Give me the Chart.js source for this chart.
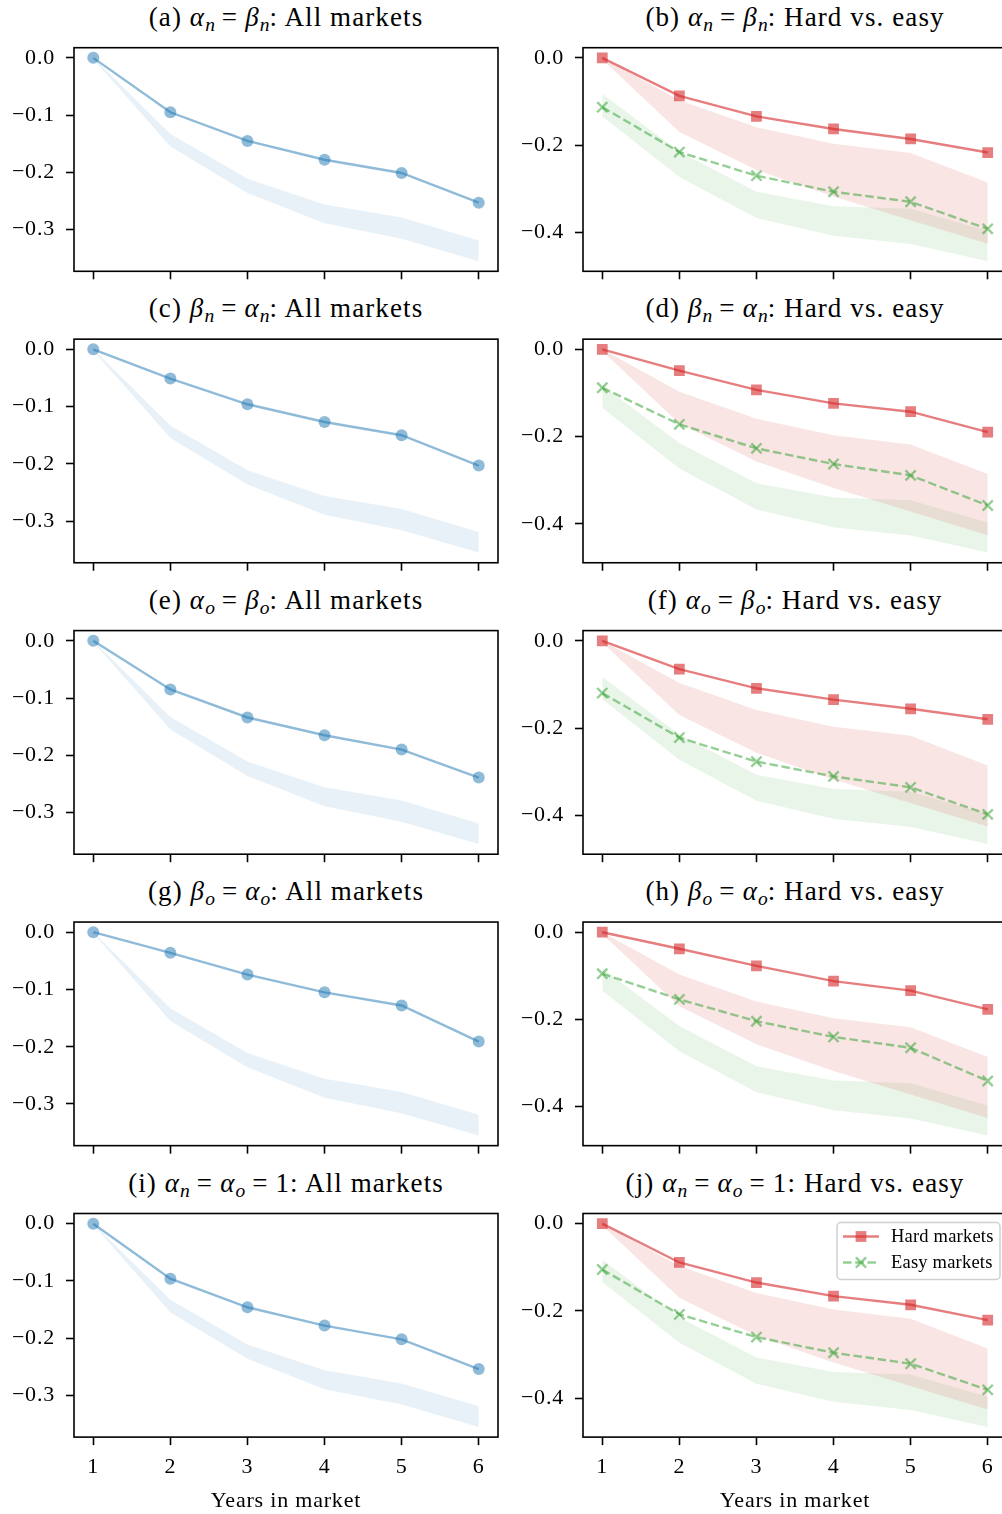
<!DOCTYPE html>
<html>
<head>
<meta charset="utf-8">
<script src="https://cdn.jsdelivr.net/npm/chart.js@4.4.1/dist/chart.umd.min.js"></script>
<style>
  html, body { margin: 0; padding: 0; background: #fff; }
  body { width: 1002px; height: 1514px; overflow: hidden; position: relative; font-family: 'Liberation Serif', serif; }
  canvas { position: absolute; }
  .title { position: absolute; width: 600px; text-align: center; font-size: 27px; line-height: 30px; letter-spacing: 1.1px; color: #000; white-space: nowrap; }
  .title sub { font-size: 0.72em; vertical-align: -0.28em; line-height: 0; letter-spacing: 0; }
  .title .eq { margin: 0 7px; }
</style>
</head>
<body>
<script>
// Datos: años en el mercado y ticks
const years = [1, 2, 3, 4, 5, 6]
const yTicksAll = [0, -0.1, -0.2, -0.3]
const yTicksSplit = [0, -0.2, -0.4]

// Bandas (iguales en todos los paneles)
const allBandHi = [0, -0.133, -0.211, -0.256, -0.279, -0.319]
const allBandLo = [-0.002, -0.155, -0.236, -0.289, -0.316, -0.355]
const hardBandHi = [0, -0.097, -0.159, -0.197, -0.218, -0.286]
const hardBandLo = [-0.004, -0.170, -0.257, -0.318, -0.372, -0.426]
const easyBandHi = [-0.083, -0.215, -0.307, -0.340, -0.346, -0.397]
const easyBandLo = [-0.134, -0.273, -0.367, -0.408, -0.427, -0.466]

// Series de cada panel
const allA = [0, -0.095, -0.145, -0.178, -0.201, -0.253]
const allC = [0, -0.051, -0.096, -0.127, -0.150, -0.203]
const allE = [0, -0.085, -0.134, -0.165, -0.190, -0.239]
const allG = [0, -0.036, -0.074, -0.105, -0.128, -0.191]
const allI = [0, -0.096, -0.146, -0.178, -0.202, -0.254]

const hardB = [0, -0.087, -0.134, -0.163, -0.186, -0.217]
const easyB = [-0.113, -0.216, -0.270, -0.307, -0.330, -0.392]
const hardD = [0, -0.049, -0.093, -0.124, -0.143, -0.190]
const easyD = [-0.088, -0.172, -0.227, -0.263, -0.289, -0.358]
const hardF = [0, -0.065, -0.109, -0.135, -0.156, -0.180]
const easyF = [-0.120, -0.222, -0.277, -0.311, -0.336, -0.398]
const hardH = [0, -0.038, -0.077, -0.112, -0.134, -0.177]
const easyH = [-0.095, -0.154, -0.204, -0.240, -0.265, -0.341]
const hardJ = [0, -0.089, -0.135, -0.166, -0.186, -0.221]
const easyJ = [-0.105, -0.208, -0.260, -0.296, -0.321, -0.381]

// Títulos
const sym = (g, s) => `<i>${g}</i><sub><i>${s}</i></sub>`
const EQ = '<span class="eq">=</span>'
const titles = [
    `(a) ${sym('α', 'n')}${EQ}${sym('β', 'n')}: All markets`,
    `(b) ${sym('α', 'n')}${EQ}${sym('β', 'n')}: Hard vs. easy`,
    `(c) ${sym('β', 'n')}${EQ}${sym('α', 'n')}: All markets`,
    `(d) ${sym('β', 'n')}${EQ}${sym('α', 'n')}: Hard vs. easy`,
    `(e) ${sym('α', 'o')}${EQ}${sym('β', 'o')}: All markets`,
    `(f) ${sym('α', 'o')}${EQ}${sym('β', 'o')}: Hard vs. easy`,
    `(g) ${sym('β', 'o')}${EQ}${sym('α', 'o')}: All markets`,
    `(h) ${sym('β', 'o')}${EQ}${sym('α', 'o')}: Hard vs. easy`,
    `(i) ${sym('α', 'n')}${EQ}${sym('α', 'o')}${EQ}1: All markets`,
    `(j) ${sym('α', 'n')}${EQ}${sym('α', 'o')}${EQ}1: Hard vs. easy`,
]
const xTitle = 'Years in market'

const panels = [
    { all: allA }, { hard: hardB, easy: easyB },
    { all: allC }, { hard: hardD, easy: easyD },
    { all: allE }, { hard: hardF, easy: easyF },
    { all: allG }, { hard: hardH, easy: easyH },
    { all: allI }, { hard: hardJ, easy: easyJ },
]

// Colores
const BLUE_LINE = 'rgba(31, 119, 180, 0.5)'
const BLUE_BAND = 'rgba(31, 119, 180, 0.1)'
const RED_LINE = 'rgba(214, 39, 40, 0.6)'
const RED_BAND = 'rgba(214, 39, 40, 0.12)'
const GREEN_LINE = 'rgba(44, 160, 44, 0.5)'
const GREEN_BAND = 'rgba(44, 160, 44, 0.1)'

// Geometría
const PLOT_TOP0 = 47.7
const ROW_STEP = 291.45
const PLOT_H = 223.6
const COLS = [
    { left: 0, width: 500, axisW: 74, padR: 2, center: 286 },
    { left: 500, width: 512, axisW: 83, padR: 5, center: 795 },
]
const FONT = "'Liberation Serif', serif"
const TICK_SIZE = 22
const LINE_W = 2.4

const pts = arr => years.map((x, i) => ({ x, y: arr[i] }))

function bandSets(hi, lo, color) {
    return [
        { data: pts(hi), order: 5, borderWidth: 0, borderColor: 'transparent', pointRadius: 0, fill: false },
        { data: pts(lo), order: 5, borderWidth: 0, borderColor: 'transparent', pointRadius: 0, fill: '-1', backgroundColor: color },
    ]
}

function yRange(arrs) {
    const flat = arrs.flat()
    const mn = Math.min(...flat)
    const mx = Math.max(...flat)
    const m = (mx - mn) * 0.05
    return [mn - m, mx + m]
}

// Un poco de espaciado entre letras para acercarse al ancho de la fuente original
const spacingPlugin = {
    id: 'spacing',
    beforeDraw(chart) {
        chart.ctx.letterSpacing = '0.8px'
    },
}

// Marco completo alrededor del área del gráfico
const framePlugin = {
    id: 'frame',
    afterDatasetsDraw(chart) {
        const { ctx, chartArea: a } = chart
        ctx.save()
        ctx.strokeStyle = '#000'
        ctx.lineWidth = 1.6
        ctx.strokeRect(a.left, a.top, a.right - a.left, a.bottom - a.top)
        ctx.restore()
    },
}

// Leyenda con caja redondeada (solo panel j)
const legendPlugin = {
    id: 'boxLegend',
    afterDatasetsDraw(chart, args, opts) {
        if (!opts.display) return
        const { ctx, chartArea } = chart
        const items = chart.data.datasets.filter(d => d.label)
        const w = 163
        const h = 57
        const x = chartArea.right - 7 - w
        const y = chartArea.top + 9
        ctx.save()
        ctx.beginPath()
        ctx.roundRect(x, y, w, h, 4)
        ctx.fillStyle = 'rgba(255, 255, 255, 0.8)'
        ctx.fill()
        ctx.strokeStyle = '#d0d0d0'
        ctx.lineWidth = 1.5
        ctx.stroke()
        items.forEach((d, i) => {
            const cy = y + 14 + i * 26
            const mx = x + 24
            ctx.strokeStyle = d.borderColor
            ctx.lineWidth = d.borderWidth
            ctx.setLineDash(d.borderDash || [])
            ctx.beginPath()
            ctx.moveTo(x + 6, cy)
            ctx.lineTo(x + 42, cy)
            ctx.stroke()
            ctx.setLineDash([])
            const s = d.pointRadius * Math.SQRT1_2
            if (d.pointStyle === 'rect') {
                ctx.fillStyle = d.pointBackgroundColor
                ctx.fillRect(mx - s, cy - s, 2 * s, 2 * s)
            } else {
                ctx.strokeStyle = d.pointBorderColor
                ctx.lineWidth = d.pointBorderWidth
                ctx.beginPath()
                ctx.moveTo(mx - s, cy - s)
                ctx.lineTo(mx + s, cy + s)
                ctx.moveTo(mx - s, cy + s)
                ctx.lineTo(mx + s, cy - s)
                ctx.stroke()
            }
            ctx.fillStyle = '#000'
            ctx.font = `18.5px ${FONT}`
            ctx.letterSpacing = '0.2px'
            ctx.textBaseline = 'middle'
            ctx.textAlign = 'left'
            ctx.fillText(d.label, x + 54, cy + 1)
        })
        ctx.restore()
    },
}

const fmtY = v => (v === 0 ? '0.0' : '\u2212' + Math.abs(v).toFixed(1))

function makePanel(p, idx) {
    const row = Math.floor(idx / 2)
    const col = idx % 2
    const last = row === 4
    const c = COLS[col]
    const plotTop = PLOT_TOP0 + row * ROW_STEP
    const canvasTop = Math.floor(plotTop) - 10
    const padTop = plotTop - canvasTop
    const height = last ? 1514 - canvasTop : Math.ceil(padTop + PLOT_H + 12)

    // Título del panel
    const t = document.createElement('div')
    t.className = 'title'
    t.innerHTML = titles[idx]
    t.style.left = (c.center - 300) + 'px'
    t.style.top = (plotTop - 46) + 'px'
    document.body.appendChild(t)

    const canvas = document.createElement('canvas')
    canvas.width = c.width
    canvas.height = height
    canvas.style.left = c.left + 'px'
    canvas.style.top = canvasTop + 'px'
    canvas.style.width = c.width + 'px'
    canvas.style.height = height + 'px'
    document.body.appendChild(canvas)

    let datasets
    let yTicks
    let range
    if (p.all) {
        yTicks = yTicksAll
        range = yRange([allBandHi, allBandLo, p.all])
        datasets = [
            ...bandSets(allBandHi, allBandLo, BLUE_BAND),
            {
                data: pts(p.all), order: 1, borderColor: BLUE_LINE, borderWidth: LINE_W,
                pointStyle: 'circle', pointRadius: 6, pointBackgroundColor: BLUE_LINE, pointBorderWidth: 0,
            },
        ]
    } else {
        yTicks = yTicksSplit
        range = yRange([hardBandHi, hardBandLo, easyBandHi, easyBandLo, p.hard, p.easy])
        datasets = [
            ...bandSets(hardBandHi, hardBandLo, RED_BAND),
            ...bandSets(easyBandHi, easyBandLo, GREEN_BAND),
            {
                label: 'Hard markets', data: pts(p.hard), order: 1, borderColor: RED_LINE, borderWidth: LINE_W,
                pointStyle: 'rect', pointRadius: 7.6, pointBackgroundColor: RED_LINE, pointBorderWidth: 0,
            },
            {
                label: 'Easy markets', data: pts(p.easy), order: 2, borderColor: GREEN_LINE, borderWidth: LINE_W,
                borderDash: [8.5, 3.7], pointStyle: 'crossRot', pointRadius: 7.2,
                pointBackgroundColor: 'transparent', pointBorderColor: GREEN_LINE, pointBorderWidth: LINE_W,
            },
        ]
    }

    // eslint-disable-next-line no-new, no-undef
    new Chart(canvas, {
        type: 'line',
        data: { datasets },
        options: {
            responsive: false,
            animation: false,
            events: [],
            devicePixelRatio: 1,
            layout: { autoPadding: false, padding: { top: padTop, right: c.padR, left: 0, bottom: 0 } },
            plugins: {
                legend: { display: false },
                tooltip: { enabled: false },
                boxLegend: { display: idx === 9 },
            },
            scales: {
                x: {
                    type: 'linear',
                    min: 0.75,
                    max: 6.25,
                    afterBuildTicks: s => { s.ticks = years.map(v => ({ value: v })) },
                    afterFit: s => {
                        s.height = height - padTop - PLOT_H
                        s.paddingLeft = 0
                        s.paddingRight = 0
                    },
                    border: { display: false },
                    grid: { drawOnChartArea: false, drawTicks: true, tickLength: 8, tickWidth: 1.6, tickColor: '#000' },
                    ticks: {
                        display: last,
                        padding: 9,
                        color: '#000',
                        font: { family: FONT, size: TICK_SIZE },
                        callback: v => String(v),
                        maxRotation: 0,
                        autoSkip: false,
                    },
                    title: {
                        display: last,
                        text: xTitle,
                        color: '#000',
                        font: { family: FONT, size: TICK_SIZE },
                        padding: { top: 0, bottom: 0 },
                    },
                },
                y: {
                    type: 'linear',
                    min: range[0],
                    max: range[1],
                    afterBuildTicks: s => { s.ticks = yTicks.map(v => ({ value: v })) },
                    afterFit: s => {
                        s.width = c.axisW
                        s.paddingTop = 0
                        s.paddingBottom = 0
                    },
                    border: { display: false },
                    grid: { drawOnChartArea: false, drawTicks: true, tickLength: 8, tickWidth: 1.6, tickColor: '#000' },
                    ticks: {
                        padding: 11,
                        color: '#000',
                        font: { family: FONT, size: TICK_SIZE },
                        callback: fmtY,
                    },
                },
            },
        },
        plugins: [spacingPlugin, framePlugin, legendPlugin],
    })
}

panels.forEach(makePanel)
</script>
</body>
</html>
